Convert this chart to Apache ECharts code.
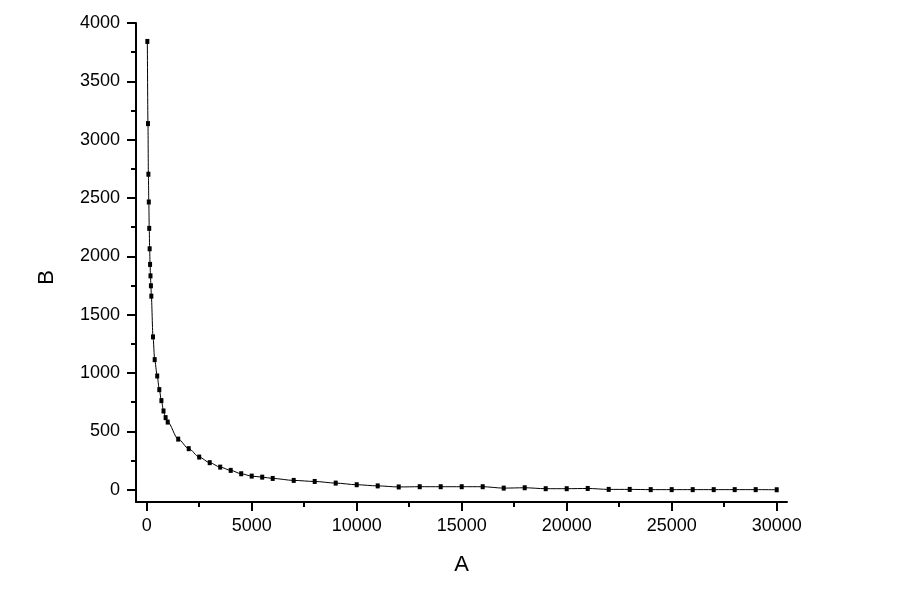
<!DOCTYPE html>
<html>
<head>
<meta charset="utf-8">
<script src="https://cdn.jsdelivr.net/npm/echarts@6/dist/echarts.min.js"></script>
<style>html,body{margin:0;padding:0;background:#fff;}#c{width:898px;height:598px;}</style>
</head>
<body>
<div id="c"></div>
<script>
var xValues = [30, 60, 80, 100, 120, 140, 160, 180, 200, 220, 300, 380, 500, 600, 700, 800, 900, 1000,
  1500, 2000, 2500, 3000, 3500, 4000, 4500, 5000, 5500, 6000, 7000, 8000, 9000, 10000, 11000, 12000,
  13000, 14000, 15000, 16000, 17000, 18000, 19000, 20000, 21000, 22000, 23000, 24000, 25000, 26000,
  27000, 28000, 29000, 30000];
var yValues = [3842, 3138, 2704, 2466, 2240, 2065, 1931, 1833, 1748, 1659, 1310, 1115, 975, 858, 764, 675, 618, 580,
  434, 352, 280, 232, 194, 166, 137, 117, 108, 97, 80, 71, 57, 43, 33, 24,
  26, 26, 26, 26, 14, 17, 9, 9, 11, 3, 3, 1, 1, 1,
  1, 1, 1, 0];
var xMajorTicks = [0, 5000, 10000, 15000, 20000, 25000, 30000];
var xMinorTicks = [2500, 7500, 12500, 17500, 22500, 27500];
var yMajorTicks = [0, 500, 1000, 1500, 2000, 2500, 3000, 3500, 4000];
var yMinorTicks = [250, 750, 1250, 1750, 2250, 2750, 3250, 3750];
var xName = 'A';
var yName = 'B';

var points = xValues.map(function (x, i) { return [x, yValues[i]]; });
var font = 'Liberation Sans, Arial, sans-serif';
var plain = function (v) { return String(v); };
var chart = echarts.init(document.getElementById('c'), null, {renderer: 'canvas'});
var lineStyle = {color: '#000', width: 2};
chart.setOption({
  backgroundColor: '#fff',
  animation: false,
  grid: {left: 136, right: 111, top: 23, bottom: 96, containLabel: false},
  xAxis: [{
    type: 'value', position: 'bottom', min: -510, max: 30490,
    name: xName, nameLocation: 'middle', nameGap: 52,
    nameTextStyle: {fontFamily: font, fontSize: 22, color: '#000'},
    axisLine: {show: true, onZero: false, lineStyle: lineStyle},
    axisTick: {show: true, inside: false, length: 9, customValues: xMajorTicks, lineStyle: lineStyle},
    axisLabel: {show: true, margin: 15, customValues: xMajorTicks, formatter: plain, fontFamily: font, fontSize: 18, color: '#000'},
    splitLine: {show: false}
  }, {
    type: 'value', position: 'bottom', min: -510, max: 30490, offset: 0,
    axisLine: {show: false, onZero: false},
    axisTick: {show: true, inside: false, length: 5, customValues: xMinorTicks, lineStyle: lineStyle},
    axisLabel: {show: false},
    splitLine: {show: false}
  }],
  yAxis: [{
    type: 'value', position: 'left', min: -105, max: 4000,
    name: yName, nameLocation: 'middle', nameGap: 78,
    nameTextStyle: {fontFamily: font, fontSize: 22, color: '#000', padding: [0, 30, 0, 0]},
    axisLine: {show: true, onZero: false, lineStyle: lineStyle},
    axisTick: {show: true, inside: false, length: 9, customValues: yMajorTicks, lineStyle: lineStyle},
    axisLabel: {show: true, margin: 16, customValues: yMajorTicks, formatter: plain, fontFamily: font, fontSize: 18, color: '#000'},
    splitLine: {show: false}
  }, {
    type: 'value', position: 'left', min: -105, max: 4000, offset: 0,
    axisLine: {show: false, onZero: false},
    axisTick: {show: true, inside: false, length: 5, customValues: yMinorTicks, lineStyle: lineStyle},
    axisLabel: {show: false},
    splitLine: {show: false}
  }],
  series: [{
    type: 'line',
    xAxisIndex: 0, yAxisIndex: 0,
    data: points,
    smooth: 0.3,
    smoothMonotone: 'x',
    symbol: 'rect',
    symbolSize: [4, 5],
    showAllSymbol: true,
    itemStyle: {color: '#000'},
    lineStyle: {color: '#000', width: 1}
  }]
});
</script>
</body>
</html>
